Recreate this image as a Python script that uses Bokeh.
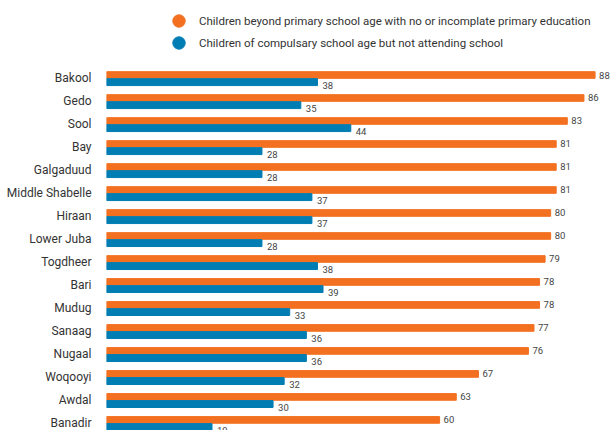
from bokeh.plotting import figure
from bokeh.models import Range1d, ColumnDataSource, FixedTicker, Legend, LegendItem
from bokeh.core.properties import value
from bokeh.embed import file_html
from bokeh.resources import INLINE

regions = ["Bakool", "Gedo", "Sool", "Bay", "Galgaduud", "Middle Shabelle", "Hiraan",
           "Lower Juba", "Togdheer", "Bari", "Mudug", "Sanaag", "Nugaal", "Woqooyi",
           "Awdal", "Banadir"]
beyond_primary = [88, 86, 83, 81, 81, 81, 80, 80, 79, 78, 78, 77, 76, 67, 63, 60]
not_attending = [38, 35, 44, 28, 28, 37, 37, 28, 38, 39, 33, 36, 36, 32, 30, 19]
series_names = ["Children beyond primary school age with no or incomplate primary education",
                "Children of compulsary school age but not attending school"]

ORANGE = "#F37021"
BLUE = "#007DB3"
FONT = "Roboto"

idx = list(range(len(regions)))
src = ColumnDataSource(dict(
    y_o=[i - 0.15 for i in idx],
    y_b=[i + 0.16 for i in idx],
    beyond=beyond_primary,
    notatt=not_attending,
    lab_o=[str(v) for v in beyond_primary],
    lab_b=[str(v) for v in not_attending],
))

p = figure(width=614, height=430, output_backend="svg", toolbar_location=None,
           x_range=Range1d(0, 91.5), y_range=Range1d(15.31, -3.39),
           min_border_left=106, min_border_right=0, min_border_top=0, min_border_bottom=0)
p.outline_line_color = None
p.grid.visible = False
p.xaxis.visible = False

p.hbar(y="y_o", right="beyond", left=0, height=0.29, color=ORANGE, source=src)
p.hbar(y="y_b", right="notatt", left=0, height=0.30, color=BLUE, source=src)

p.text(x="beyond", y="y_o", text="lab_o", source=src, x_offset=4,
       text_font=value(FONT), text_font_size="9.5px", text_color="#444444",
       text_baseline="middle", text_align="left")
p.text(x="notatt", y="y_b", text="lab_b", source=src, x_offset=5, y_offset=3,
       text_font=value(FONT), text_font_size="9.5px", text_color="#444444",
       text_baseline="middle", text_align="left")

ax = p.yaxis[0]
ax.ticker = FixedTicker(ticks=idx)
ax.major_label_overrides = {i: r for i, r in zip(idx, regions)}
ax.axis_line_color = None
ax.major_tick_line_color = None
ax.minor_tick_line_color = None
ax.major_label_text_font = FONT
ax.major_label_text_font_size = "12px"
ax.major_label_text_color = "#333333"
ax.major_label_standoff = 9

nan = float("nan")
swatches = [p.scatter(x=[nan], y=[nan], size=13, color=c) for c in (ORANGE, BLUE)]
for name, rend, loc in zip(series_names, swatches, [(57, 394), (57, 372)]):
    lg = Legend(items=[LegendItem(label=name, renderers=[rend])], location=loc)
    lg.border_line_color = None
    lg.background_fill_alpha = 0
    lg.padding = 0
    lg.margin = 0
    lg.spacing = 0
    lg.glyph_width = 31
    lg.glyph_height = 31
    lg.label_height = 31
    lg.label_standoff = 5
    lg.label_text_font = FONT
    lg.label_text_font_size = "11.5px"
    lg.label_text_color = "#333333"
    p.add_layout(lg)

open("out.html", "w").write(file_html(p, INLINE))
